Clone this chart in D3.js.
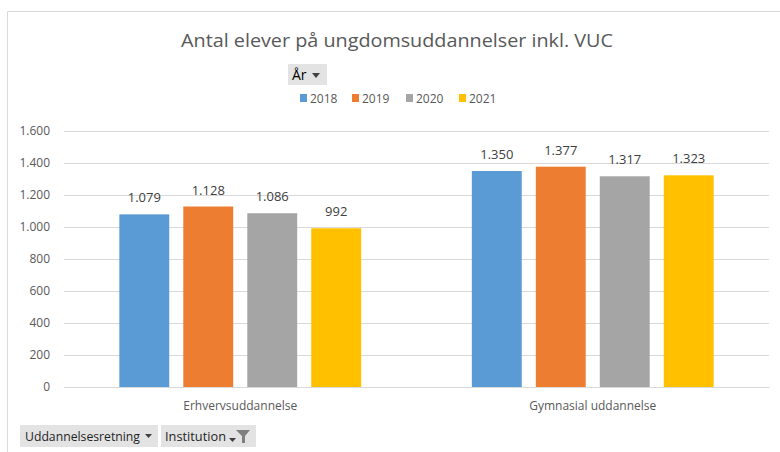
<!DOCTYPE html>
<html><head><meta charset="utf-8">
<script src="https://cdn.jsdelivr.net/npm/d3@7"></script>
<style>html,body{margin:0;padding:0;background:#fff;}svg{display:block;font-family:"Open Sans","Liberation Sans",sans-serif;}</style>
</head><body>
<svg id="c" width="780" height="452"></svg>
<script>
const title = "Antal elever på ungdomsuddannelser inkl. VUC";
const categories = ["Erhvervsuddannelse", "Gymnasial uddannelse"];
const years = ["2018", "2019", "2020", "2021"];
const values2018 = [1079, 1350];
const values2019 = [1128, 1377];
const values2020 = [1086, 1317];
const values2021 = [992, 1323];
const colors = ["#5B9BD5", "#ED7D31", "#A5A5A5", "#FFC000"];
const yTicks = [0, 200, 400, 600, 800, 1000, 1200, 1400, 1600];

const series = [values2018, values2019, values2020, values2021];
const loc = d3.formatLocale({decimal: ",", thousands: ".", grouping: [3], currency: ["", ""]});
const fmt = loc.format(",d");

const svg = d3.select("#c");
const plotL = 64, plotR = 769, plotT = 131, plotB = 387;

// outer frame
svg.append("path").attr("d", "M7.5,452 L7.5,11.5 L780,11.5").attr("fill", "none").attr("stroke", "#d9d9d9").attr("stroke-width", 1);

const y = d3.scaleLinear().domain([0, 1600]).range([plotB, plotT]);
const x0 = d3.scaleBand().domain(categories).range([plotL, plotR]).paddingInner(0.274).paddingOuter(0.137);
const x1 = d3.scaleBand().domain(years).range([0, x0.bandwidth()]).paddingInner(0.22).paddingOuter(0.11);

// gridlines
const yAxis = d3.axisLeft(y).tickValues(yTicks).tickSize(-(plotR - plotL)).tickFormat(fmt).tickPadding(14);
const gy = svg.append("g").attr("transform", `translate(${plotL},0)`).call(yAxis);
gy.select(".domain").remove();
gy.selectAll(".tick line").attr("stroke", "#d9d9d9").attr("shape-rendering", "crispEdges");
gy.selectAll(".tick text").attr("fill", "#595959").attr("font-size", 12).attr("font-family", "'Open Sans','Liberation Sans',sans-serif");

// bars
const g = svg.append("g");
categories.forEach((cat, ci) => {
  years.forEach((yr, si) => {
    const v = series[si][ci];
    g.append("rect")
      .attr("x", x0(cat) + x1(yr))
      .attr("y", y(v))
      .attr("width", x1.bandwidth())
      .attr("height", y(0) - y(v))
      .attr("fill", colors[si]);
    g.append("text")
      .attr("x", x0(cat) + x1(yr) + x1.bandwidth() / 2)
      .attr("y", y(v) - 12)
      .attr("text-anchor", "middle")
      .attr("fill", "#404040")
      .attr("font-size", 13)
      .text(fmt(v));
  });
});

// x axis labels
const xAxis = d3.axisBottom(x0).tickSize(0).tickPadding(14);
const gx = svg.append("g").attr("transform", `translate(0,${plotB})`).call(xAxis);
gx.select(".domain").attr("stroke", "#d9d9d9");
gx.selectAll(".tick text").attr("fill", "#595959").attr("font-size", 12).attr("font-family", "'Open Sans','Liberation Sans',sans-serif");

// title
svg.append("text").attr("x", 397).attr("y", 47).attr("text-anchor", "middle")
  .attr("fill", "#595959").attr("font-size", 19).attr("textLength", 432).attr("lengthAdjust", "spacingAndGlyphs").text(title);

// År button
svg.append("rect").attr("x", 288).attr("y", 64).attr("width", 39).attr("height", 21).attr("fill", "#e3e3e3");
svg.append("text").attr("x", 292).attr("y", 80).attr("font-size", 14).attr("fill", "#000").text("År");
svg.append("path").attr("d", "M312,73 L320,73 L316,78 Z").attr("fill", "#404040");

// legend
const legX = [300, 352, 406, 459];
years.forEach((yr, i) => {
  svg.append("rect").attr("x", legX[i]).attr("y", 94).attr("width", 7).attr("height", 8).attr("fill", colors[i]);
  svg.append("text").attr("x", legX[i] + 10).attr("y", 103).attr("font-size", 12).attr("fill", "#595959").text(yr);
});

// bottom buttons
svg.append("rect").attr("x", 20).attr("y", 425).attr("width", 138).attr("height", 22).attr("fill", "#e3e3e3");
svg.append("text").attr("x", 25).attr("y", 441).attr("font-size", 12).attr("fill", "#1f1f1f").attr("textLength", 115).attr("lengthAdjust", "spacingAndGlyphs").text("Uddannelsesretning");
svg.append("path").attr("d", "M145,434 L152,434 L148.5,438 Z").attr("fill", "#404040");
svg.append("rect").attr("x", 161).attr("y", 425).attr("width", 95).attr("height", 22).attr("fill", "#e3e3e3");
svg.append("text").attr("x", 165).attr("y", 441).attr("font-size", 12).attr("fill", "#1f1f1f").attr("textLength", 61).attr("lengthAdjust", "spacingAndGlyphs").text("Institution");
svg.append("path").attr("d", "M229,438 L236,438 L232.5,442 Z").attr("fill", "#404040");
svg.append("path").attr("d", "M236,430 L250,430 L245,436 L245,443 L242,443 L242,436 Z").attr("fill", "#7f7f7f");
</script>
</body></html>
